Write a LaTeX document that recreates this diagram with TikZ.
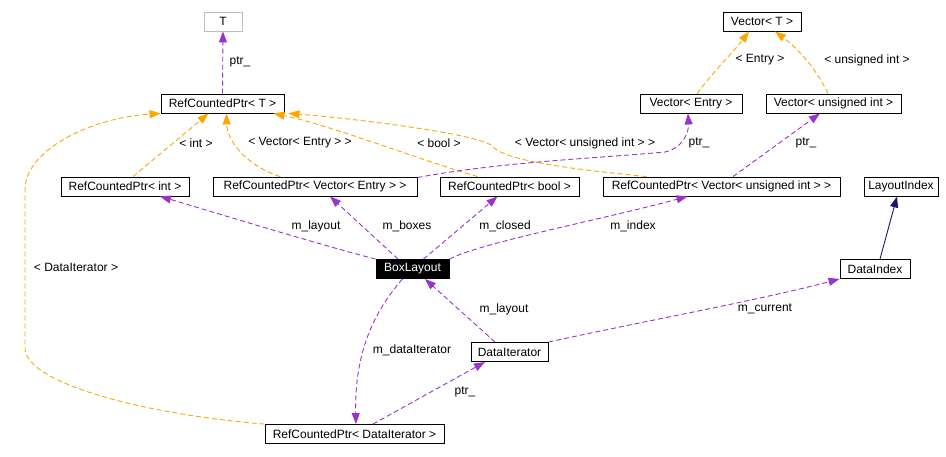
\documentclass[tikz,border=0pt]{standalone}
\usepackage{fontspec}
\setmainfont{Liberation Sans}
\usetikzlibrary{arrows.meta}
\definecolor{usec}{HTML}{9A32CD}
\definecolor{tmplc}{HTML}{FFA500}
\definecolor{inhc}{HTML}{191970}
\definecolor{grayb}{HTML}{BFBFBF}
\tikzset{
  cls/.style={draw=black, line width=0.9pt, rectangle, inner sep=0pt, minimum height=19pt, font=\fontsize{12pt}{14pt}\selectfont, text=black},
  lbl/.style={inner sep=0pt, font=\fontsize{12pt}{14pt}\selectfont, text=black},
  usee/.style={draw=usec, line width=0.9pt, dash pattern=on 5pt off 3pt, -{Triangle[length=11pt,width=8pt]}, usec},
  tmpl/.style={draw=tmplc, line width=0.9pt, dash pattern=on 5pt off 3pt, -{Triangle[length=11pt,width=8pt]}, tmplc},
  inh/.style={draw=inhc, line width=0.9pt, -{Triangle[length=11pt,width=8pt]}, inhc}
}
\begin{document}
\begin{tikzpicture}[x=1pt,y=-1pt]
\useasboundingbox (0,0) rectangle (946,456);
% nodes
\node[cls, draw=grayb, minimum width=38pt] (T) at (223,21.5) {T};
\node[cls, minimum width=123pt] (rcT) at (222.5,103.5) {RefCountedPtr< T >};
\node[cls, minimum width=78pt] (VT) at (762,21.5) {Vector< T >};
\node[cls, minimum width=102pt] (VE) at (691,103.5) {Vector< Entry >};
\node[cls, minimum width=135pt] (Vui) at (833.5,103.5) {Vector< unsigned int >};
\node[cls, minimum width=128pt] (rcInt) at (125,186.5) {RefCountedPtr< int >};
\node[cls, minimum width=204pt] (rcVE) at (315,186.5) {RefCountedPtr< Vector< Entry > >};
\node[cls, minimum width=139pt] (rcBool) at (509.5,186.5) {RefCountedPtr< bool >};
\node[cls, minimum width=237pt] (rcVui) at (721.5,186.5) {RefCountedPtr< Vector< unsigned int > >};
\node[cls, minimum width=74pt] (LI) at (901,186.5) {LayoutIndex};
\node[cls, fill=black, text=white, minimum width=73pt] (BL) at (412.5,269) {BoxLayout};
\node[cls, minimum width=70pt] (DI) at (875,269) {DataIndex};
\node[cls, minimum width=77pt] (DIt) at (509.5,352) {DataIterator};
\node[cls, minimum width=179pt] (rcDI) at (354.5,434) {RefCountedPtr< DataIterator >};
% edges
\draw[usee] (rcT.north) -- (T.south);
\draw[tmpl] ([xshift=8pt]rcInt.north) -- ([xshift=-14pt]rcT.south);
\draw[tmpl] ([xshift=-35pt]rcVE.north) .. controls (245,165) and (227,140) .. ([xshift=4pt]rcT.south);
\draw[tmpl] ([xshift=-32pt]rcBool.north) .. controls (420,160) and (330,125) .. ([xshift=-11pt]rcT.south east);
\draw[tmpl] ([xshift=-75pt]rcVui.north) .. controls (560,168) and (505,160) .. (492,146) .. controls (480,134) and (350,118) .. ([xshift=4pt]rcT.south east);
\draw[tmpl] (rcDI.north west) .. controls (150,415) and (30,385) .. (25,350) -- (25,190) .. controls (25,150) and (90,118) .. (rcT.south west);
\draw[tmpl] ([xshift=6pt]VE.north) .. controls (715,70) and (735,50) .. ([xshift=-13pt]VT.south);
\draw[tmpl] ([xshift=-5.5pt]Vui.north) .. controls (818,72) and (800,50) .. ([xshift=13pt]VT.south);
\draw[usee] ([yshift=-1pt]rcVE.north east) .. controls (500,162) and (600,158) .. (665,152) .. controls (684,148) and (689,130) .. ([xshift=-3pt]VE.south);
\draw[usee] ([xshift=11.5pt]rcVui.north) -- ([xshift=-13.5pt]Vui.south);
\draw[usee] (BL.north west) .. controls (320,245) and (190,205) .. ([xshift=35pt]rcInt.south);
\draw[usee] ([xshift=-14.5pt]BL.north) -- ([xshift=15pt]rcVE.south);
\draw[usee] ([xshift=11pt]BL.north) -- ([xshift=-12pt]rcBool.south);
\draw[usee] (BL.north east) .. controls (480,243) and (600,220) .. ([xshift=-34pt]rcVui.south);
\draw[inh] ([xshift=5pt]DI.north) -- ([xshift=-4pt]LI.south);
\draw[usee] ([xshift=-14.5pt]DIt.north) -- ([xshift=12.5pt]BL.south);
\draw[usee] (DIt.north east) .. controls (640,322) and (760,300) .. (DI.south west);
\draw[usee] ([xshift=-10pt]BL.south) .. controls (380,305) and (354,345) .. ([xshift=1.5pt]rcDI.north);
\draw[usee] ([xshift=18.5pt]rcDI.north) -- ([xshift=-24.5pt]DIt.south);
% labels
\node[lbl] (l1) at (240,62) {ptr\_};
\node[lbl] (l2) at (196,143) {< int >};
\node[lbl] (l3) at (300,143) {< Vector< Entry > >};
\node[lbl] (l4) at (439,143) {< bool >};
\node[lbl] (l5) at (585,143) {< Vector< unsigned int > >};
\node[lbl] (l6) at (699,143) {ptr\_};
\node[lbl] (l7) at (806,143) {ptr\_};
\node[lbl] (l8) at (760,60) {< Entry >};
\node[lbl] (l9) at (867,60) {< unsigned int >};
\node[lbl] (l10) at (316,226) {m\_layout};
\node[lbl] (l11) at (407,226) {m\_boxes};
\node[lbl] (l12) at (505,226) {m\_closed};
\node[lbl] (l13) at (633,226) {m\_index};
\node[lbl] (l14) at (76,267) {< DataIterator >};
\node[lbl] (l15) at (504,309) {m\_layout};
\node[lbl] (l16) at (765,309) {m\_current};
\node[lbl] (l17) at (412,350) {m\_dataIterator};
\node[lbl] (l18) at (465,392) {ptr\_};
\end{tikzpicture}
\end{document}
